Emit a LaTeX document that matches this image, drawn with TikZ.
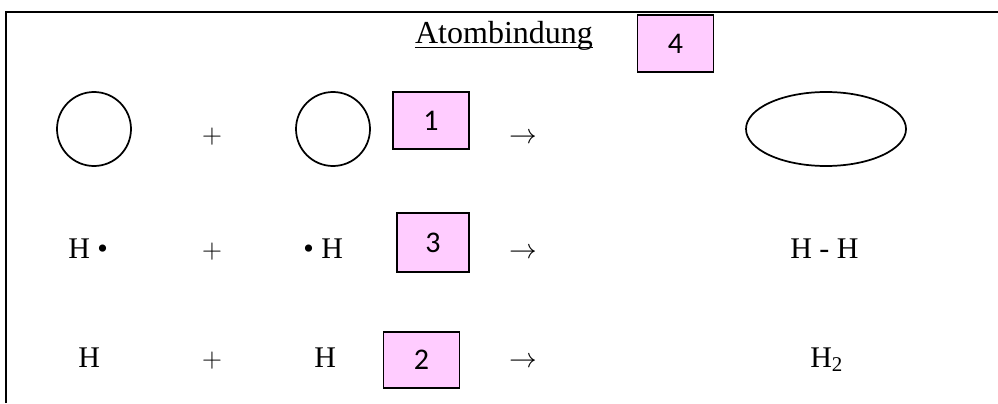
\documentclass[tikz,border=0pt]{standalone}
\usepackage{fontspec}
\setmainfont{Liberation Serif}
\newfontfamily\boxfont{Carlito}
\usetikzlibrary{shapes.geometric}
\definecolor{boxpink}{HTML}{FFCCFF}
\tikzset{
  chem/.style={inner sep=0pt, anchor=base, font=\fontsize{22.5}{27}\selectfont},
  numbox/.style={draw, line width=1.3pt, fill=boxpink, inner sep=0pt,
    minimum width=57pt, minimum height=42.5pt, font=\boxfont\fontsize{22.5}{27}\selectfont},
  atom/.style={draw, circle, line width=1.3pt, inner sep=0pt, minimum size=55.5pt},
  molecule/.style={draw, ellipse, line width=1.3pt, inner sep=0pt,
    minimum width=120pt, minimum height=55.5pt}
}
\newcommand{\plussign}{$+$}
\newcommand{\yields}{$\rightarrow$}
\begin{document}
\begin{tikzpicture}[x=0.75pt,y=-0.75pt]
  \useasboundingbox (0,0) rectangle (998,403);
  \draw[line width=1.6pt] (6,403) -- (6,12) -- (998,12);
  \draw
    (504,44) node[chem, font=\fontsize{24}{28}\selectfont] (title){Atombindung}
    (675.5,43.5) node[numbox] (b4){4};
  \draw[line width=1pt] ([yshift=-2.4pt]title.base west) -- ([yshift=-2.4pt]title.base east);

  \draw
    (94,129) node[atom] (a1){}
    (212,143) node[chem] (p1){\plussign}
    (333,129) node[atom] (a2){}
    (431,120.5) node[numbox] (b1){1}
    (523,143) node[chem] (r1){\yields}
    (826,129) node[molecule] (m1){};

  \draw
    (68,258) node[chem, anchor=base west] (h1){H •}
    (212,258) node[chem] (p2){\plussign}
    (303,258) node[chem, anchor=base west] (h2){• H}
    (433,242.5) node[numbox, minimum width=54pt, minimum height=44pt] (b3){3}
    (523,258) node[chem] (r2){\yields}
    (790,258) node[chem, anchor=base west] (m2){H - H};

  \draw
    (78,367) node[chem, anchor=base west] (h3){H}
    (212,367) node[chem] (p3){\plussign}
    (314,367) node[chem, anchor=base west] (h4){H}
    (421.5,360) node[numbox] (b2){2}
    (523,367) node[chem] (r3){\yields}
    (810,367) node[chem, anchor=base west] (m3){H\textsubscript{2}};
\end{tikzpicture}
\end{document}
